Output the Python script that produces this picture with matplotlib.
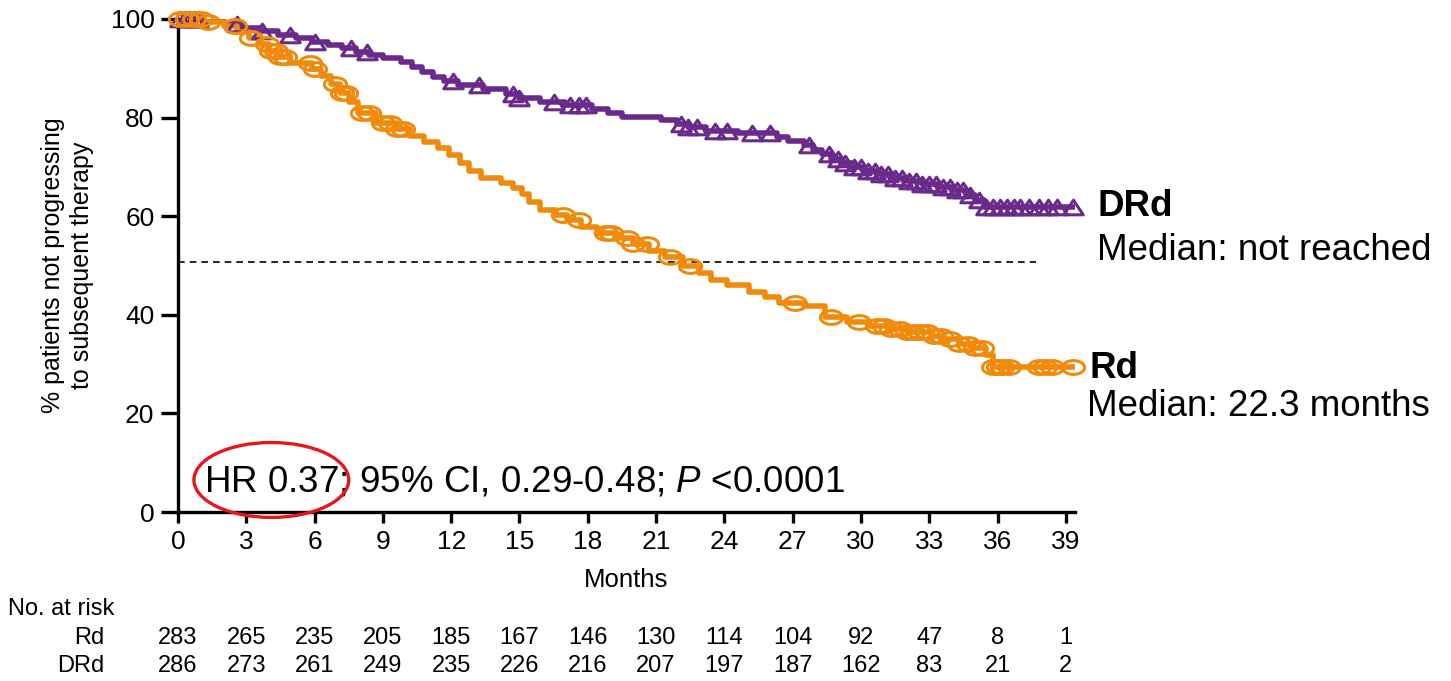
import numpy as np
import matplotlib
matplotlib.use("Agg")
import matplotlib.pyplot as plt
from matplotlib.path import Path
from matplotlib.patches import Ellipse
from matplotlib.transforms import blended_transform_factory

plt.rcParams['font.family'] = ['Liberation Sans', 'DejaVu Sans']
plt.rcParams['mathtext.fontset'] = 'custom'
plt.rcParams['mathtext.rm'] = 'Liberation Sans'
plt.rcParams['mathtext.it'] = 'Liberation Sans:italic'

# ---- Kaplan-Meier steps (months, % not progressing) ----
rd_t = [0, 1.2, 2.0, 2.6, 3.1, 3.6, 4.0, 4.4, 4.9, 5.9, 6.3, 6.7, 7.1, 7.5, 7.9,
        8.7, 9.6, 10.2, 10.8, 11.4, 11.9, 12.4, 12.8, 13.3, 14.2, 14.7, 15.1,
        15.4, 15.9, 16.6, 17.1, 17.7, 18.4, 19.2, 20.0, 20.7, 21.4, 22.2, 22.9,
        23.4, 24.1, 25.1, 25.8, 26.4, 27.5, 28.4, 29.4, 30.3, 31.2, 32.0, 33.1,
        33.6, 34.3, 34.9, 35.5, 35.8, 39.4]
rd_s = [100, 99.4, 98.6, 97.4, 96.2, 95.0, 93.6, 92.2, 91.0, 89.8, 88.4, 86.8,
        85.0, 83.2, 81.0, 79.0, 77.6, 76.2, 75.0, 73.8, 72.4, 70.8, 69.2, 67.8,
        66.8, 65.8, 64.6, 62.8, 61.2, 60.2, 59.2, 57.8, 56.6, 55.6, 54.4, 53.0,
        51.8, 49.8, 48.4, 47.0, 46.0, 44.6, 43.6, 42.4, 41.8, 39.6, 38.6, 37.8,
        37.2, 36.6, 35.8, 35.0, 34.0, 33.2, 31.8, 29.4, 29.4]

drd_t = [0, 1.2, 2.0, 2.8, 3.6, 4.4, 5.2, 5.9, 6.6, 7.2, 7.8, 8.4, 9.0, 9.8,
         10.3, 10.7, 11.2, 11.7, 12.3, 13.4, 14.4, 15.0, 15.9, 17.0, 18.2, 18.9,
         19.5, 21.2, 21.9, 22.4, 23.2, 24.6, 26.3, 26.8, 27.5, 27.9, 28.3, 28.7,
         29.1, 29.6, 30.1, 30.7, 31.4, 32.0, 32.7, 33.4, 34.0, 34.6, 35.0, 35.4,
         39.4]
drd_s = [100, 99.6, 99.0, 98.2, 97.6, 96.8, 96.2, 95.4, 94.8, 94.2, 93.4, 92.6,
         92.0, 91.2, 90.2, 89.2, 88.2, 87.4, 86.6, 85.8, 84.8, 84.0, 83.2, 82.6,
         81.8, 81.0, 80.2, 79.6, 78.8, 78.0, 77.2, 76.8, 76.0, 75.2, 74.4, 73.4,
         72.6, 71.6, 70.8, 70.0, 69.2, 68.6, 67.8, 67.2, 66.6, 66.0, 65.4, 64.4,
         63.2, 61.9, 61.9]

# censored observations (months)
rd_cens = [0.1, 0.4, 0.7, 1.0, 1.3, 2.5, 3.2, 3.9, 4.1, 4.3, 4.5, 4.7, 5.8, 6.0,
           6.9, 7.2, 7.4, 8.1, 8.4, 9.0, 9.3, 9.6, 9.9, 16.9, 17.6, 18.8, 19.0,
           19.7, 20.0, 20.6, 21.6, 22.5, 27.1, 28.7, 29.9, 30.7, 31.0, 31.3,
           31.7, 32.0, 32.3, 32.6, 32.9, 33.2, 33.5, 33.9, 34.3, 34.7, 35.0,
           35.3, 35.8, 36.0, 36.2, 36.5, 37.8, 38.1, 38.4, 39.3]
drd_cens = [0.1, 0.3, 0.5, 0.7, 0.9, 2.6, 3.7, 4.9, 6.0, 7.6, 8.3, 12.1, 13.2,
            14.7, 15.0, 16.5, 17.2, 17.6, 17.9, 22.1, 22.4, 22.8, 23.6, 24.1,
            25.2, 26.0, 27.7, 28.6, 29.0, 29.3, 29.7, 30.0, 30.3, 30.6, 30.9,
            31.2, 31.5, 31.8, 32.1, 32.4, 32.7, 33.0, 33.3, 33.6, 33.9, 34.2,
            34.5, 34.8, 35.2, 35.5, 35.8, 36.1, 36.4, 36.7, 37.0, 37.4, 37.8,
            38.2, 38.6, 39.3]

risk_months = list(range(0, 40, 3))
risk_rd = [283, 265, 235, 205, 185, 167, 146, 130, 114, 104, 92, 47, 8, 1]
risk_drd = [286, 273, 261, 249, 235, 226, 216, 207, 197, 187, 162, 83, 21, 2]

median_line = 50.7
PURPLE = '#6a2a8c'
ORANGE = '#f08a0a'


def surv_at(times, steps_t, steps_s):
    idx = np.searchsorted(steps_t, times, side='right') - 1
    return np.array(steps_s)[idx]


# hollow ellipse / flat triangle markers for censoring
th = np.linspace(0, 2 * np.pi, 60)
ell_marker = Path(np.column_stack([np.cos(th), 0.62 * np.sin(th)]), closed=True)
tri_marker = Path([(0, 0.75), (-1, -0.75), (1, -0.75), (0, 0.75)], closed=True)

fig = plt.figure(figsize=(14.51, 6.81), dpi=100)
ax = fig.add_axes([178 / 1451, 1 - 512 / 681, (1075 - 178) / 1451, (512 - 19) / 681])

ax.plot([0, 37.7], [median_line, median_line], ls=(0, (4, 3)), color='black', lw=1.2)

ax.step(drd_t, drd_s, where='post', color=PURPLE, lw=4.0, zorder=3)
ax.plot(drd_cens, surv_at(drd_cens, drd_t, drd_s), ls='none', marker=tri_marker,
        ms=14, mfc='none', mec=PURPLE, mew=2.2, zorder=4, clip_on=False)

ax.step(rd_t, rd_s, where='post', color=ORANGE, lw=4.0, zorder=3)
ax.plot(rd_cens, surv_at(rd_cens, rd_t, rd_s), ls='none', marker=ell_marker,
        ms=16, mfc='none', mec=ORANGE, mew=2.2, zorder=4, clip_on=False)

ax.set_xlim(0, 39.4)
ax.set_ylim(0, 100)
ax.set_xticks(risk_months)
ax.set_yticks([0, 20, 40, 60, 80, 100])
for s in ['top', 'right']:
    ax.spines[s].set_visible(False)
for s in ['left', 'bottom']:
    ax.spines[s].set_linewidth(2.4)
ax.tick_params(axis='x', width=2.4, length=8, labelsize=19, direction='out', pad=5)
ax.tick_params(axis='y', width=2.4, length=12, labelsize=19, direction='out', pad=5)
ax.set_xlabel('Months', fontsize=18.5, labelpad=10)
ax.set_ylabel('% patients not progressing\nto subsequent therapy', fontsize=18,
              labelpad=12, linespacing=1.25)

ax.text(1.15, 6.0, 'HR 0.37; 95% CI, 0.29-0.48; $\\mathit{P}$ <0.0001',
        fontsize=26.5, va='center', ha='left')
ax.add_patch(Ellipse((4.1, 6.5), 6.8, 15.2, fill=False, ec='#e8161b', lw=2.4,
                     clip_on=False, zorder=5))


def px(x, y):
    return x / 1451, 1 - y / 681


fig.text(*px(1097, 207), 'DRd', fontsize=26.5, fontweight='bold', va='center')
fig.text(*px(1097, 251), 'Median: not reached', fontsize=26.5, va='center')
fig.text(*px(1090, 368), 'Rd', fontsize=26.5, fontweight='bold', va='center')
fig.text(*px(1087, 407), 'Median: 22.3 months', fontsize=26.5, va='center')

# number-at-risk table
tr = blended_transform_factory(ax.transData, fig.transFigure)
fig.text(*px(8, 609), 'No. at risk', fontsize=17, va='center')
fig.text(*px(104, 638), 'Rd', fontsize=17, va='center', ha='right')
fig.text(*px(104, 666), 'DRd', fontsize=17, va='center', ha='right')
for m, a, b in zip(risk_months, risk_rd, risk_drd):
    ax.text(m, 1 - 638 / 681, str(a), transform=tr, fontsize=17, ha='center', va='center')
    ax.text(m, 1 - 666 / 681, str(b), transform=tr, fontsize=17, ha='center', va='center')

fig.savefig('out.png', dpi=100)
